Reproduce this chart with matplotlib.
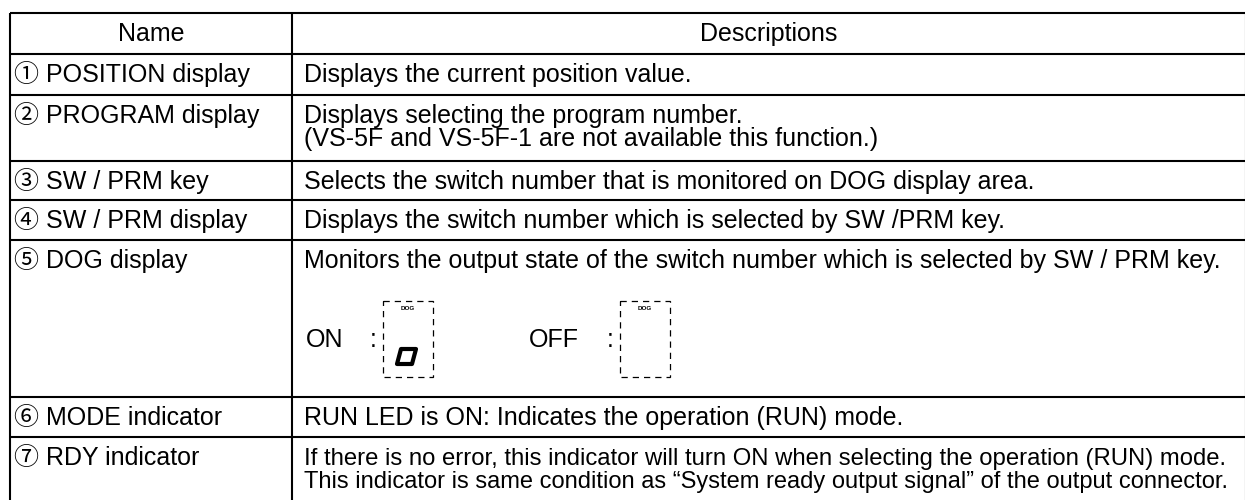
import matplotlib.pyplot as plt
from matplotlib.patches import Rectangle, Polygon

# table content
header = ["Name", "Descriptions"]
names = [
    "① POSITION display",
    "② PROGRAM display",
    "③ SW / PRM key",
    "④ SW / PRM display",
    "⑤ DOG display",
    "⑥ MODE indicator",
    "⑦ RDY indicator",
]
descriptions = [
    ["Displays the current position value."],
    ["Displays selecting the program number.",
     "(VS-5F and VS-5F-1 are not available this function.)"],
    ["Selects the switch number that is monitored on DOG display area."],
    ["Displays the switch number which is selected by SW /PRM key."],
    ["Monitors the output state of the switch number which is selected by SW / PRM key."],
    ["RUN LED is ON: Indicates the operation (RUN) mode."],
    ["If there is no error, this indicator will turn ON when selecting the operation (RUN) mode.",
     "This indicator is same condition as \u201cSystem ready output signal\u201d of the output connector."],
]
dog_states = ["ON", "OFF"]

# layout in pixels
W, H = 1245, 500
row_lines = [12.7, 54, 95, 161, 200, 240, 397, 437]
x_left, x_mid, x_right = 10, 292, 1246
fam = ["Liberation Sans", "Noto Sans CJK JP", "DejaVu Sans"]
fs = 18
offset = 28
line_gap = 23
desc_x = 304
max_w = 924  # text in the description column never runs past ~1228 px

fig = plt.figure(figsize=(W / 100, H / 100), dpi=100)
ax = fig.add_axes([0, 0, 1, 1])
ax.set_xlim(0, W)
ax.set_ylim(H, 0)
ax.axis("off")
renderer = fig.canvas.get_renderer()

# grid
ax.hlines(row_lines, x_left, x_right, color="black", lw=1.5)
ax.vlines([x_left, x_mid, x_right], row_lines[0], H + 5, color="black", lw=1.5)

# header
base = row_lines[0] + offset
ax.text((x_left + x_mid) / 2, base, header[0], ha="center", va="baseline", fontsize=fs, family=fam)
ax.text((x_mid + x_right) / 2, base, header[1], ha="center", va="baseline", fontsize=fs, family=fam)

# rows
for i, (name, desc) in enumerate(zip(names, descriptions)):
    base = row_lines[i + 1] + offset
    ax.text(14, base, name, ha="left", va="baseline", fontsize=fs, family=fam)
    for j, line in enumerate(desc):
        t = ax.text(desc_x, base + j * line_gap, line, ha="left", va="baseline",
                    fontsize=fs, family=fam)
        w = t.get_window_extent(renderer).width
        if w > max_w:
            t.set_fontsize(fs * max_w / w)

# DOG display illustration
label_x = [306, 529]
colon_x = [370, 607]
box_x = [383, 620]
box_top, box_bot, box_w = 301, 377, 50
for k, state in enumerate(dog_states):
    ax.text(label_x[k], 347, state, ha="left", va="baseline", fontsize=fs, family=fam)
    ax.text(colon_x[k], 347, ":", ha="left", va="baseline", fontsize=fs, family=fam)
    ax.add_patch(Rectangle((box_x[k], box_top), box_w, box_bot - box_top, fill=False,
                           ec="black", lw=0.9, ls=(0, (5, 4))))
    ax.text(box_x[k] + box_w / 2, 309, "DOG", ha="center", va="center", fontsize=4.5,
            fontweight="bold", family=fam)
    if state == "ON":
        x0 = box_x[k] + 14
        ax.add_patch(Polygon([(x0, 364), (x0 + 15, 364), (x0 + 19, 349), (x0 + 4, 349)],
                             closed=True, fill=False, ec="black", lw=3, joinstyle="round"))

fig.savefig("out.png", dpi=100, facecolor="white")
